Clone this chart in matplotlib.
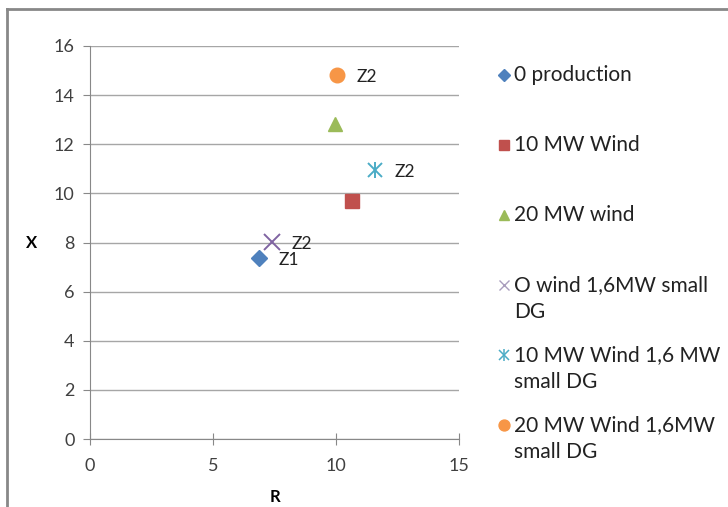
import matplotlib.pyplot as plt
from matplotlib.lines import Line2D

# scenario results: R and X per case
series = ["0 production", "10 MW Wind", "20 MW wind",
          "O wind 1,6MW small\nDG", "10 MW Wind 1,6 MW\nsmall DG",
          "20 MW Wind 1,6MW\nsmall DG"]
r_vals = [6.87, 10.65, 9.96, 7.4, 11.6, 10.04]
x_vals = [7.37, 9.7, 12.83, 8.02, 10.95, 14.82]
zone_labels = ["Z1", "", "", "Z2", "Z2", "Z2"]

colors = ["#4F81BD", "#C0504D", "#9BBB59", "#8064A2", "#4BACC6", "#F79646"]
markers = ["D", "s", "^", "x", "*", "o"]
sizes = [8.5, 10.5, 10.5, 11, 11, 10.5]

plt.rcParams['font.family'] = ['Lato', 'DejaVu Sans']

fig = plt.figure(figsize=(7.28, 5.07), dpi=100)
ax = fig.add_axes([90 / 728, 1 - 439 / 507, 369 / 728, 393 / 507])


def draw_star(a, x, y, ms, mew, c):
    # asterisk: vertical bar with a cross over it
    a.plot(x, y, marker="|", ms=ms, mew=mew, color=c, linestyle="none", zorder=3)
    a.plot(x, y, marker="x", ms=ms * 0.8, mew=mew, color=c, linestyle="none", zorder=3)


for i in range(len(series)):
    if markers[i] == "*":
        draw_star(ax, r_vals[i], x_vals[i], 12, 1.4, colors[i])
    elif markers[i] == "x":
        ax.plot(r_vals[i], x_vals[i], marker="x", ms=sizes[i], mew=1.4,
                color=colors[i], linestyle="none", zorder=3)
    else:
        ax.plot(r_vals[i], x_vals[i], marker=markers[i], ms=sizes[i],
                color=colors[i], mec=colors[i], linestyle="none", zorder=3)
    if zone_labels[i]:
        ax.annotate(zone_labels[i], (r_vals[i], x_vals[i]),
                    xytext=(14, -1.5), textcoords="offset points",
                    ha="left", va="center", fontsize=12.5, color="#222222")

ax.set_xlim(0, 15)
ax.set_ylim(0, 16)
ax.set_xticks(range(0, 16, 5))
ax.set_yticks(range(0, 17, 2))
ax.grid(axis="y", color="#A6A6A6", linewidth=1)
ax.set_axisbelow(True)
for side in ["top", "right"]:
    ax.spines[side].set_visible(False)
for side in ["left", "bottom"]:
    ax.spines[side].set_color("#888888")
ax.tick_params(axis="both", direction="out", length=5, color="#888888",
               labelsize=13, labelcolor="#404040", pad=6)
ax.tick_params(axis="x", direction="inout", length=9, pad=9)
ax.set_xlabel("R", fontsize=12, fontweight="bold", labelpad=11)
ax.set_ylabel("X", fontsize=12, fontweight="bold", rotation=0,
              labelpad=16, va="center")

# legend drawn in pixel coordinates on an overlay
lg = fig.add_axes([0, 0, 1, 1], zorder=5)
lg.set_xlim(0, 728)
lg.set_ylim(507, 0)
lg.axis("off")
lg.patch.set_alpha(0)
for i, name in enumerate(series):
    y = 75 + 70 * i
    if markers[i] == "*":
        draw_star(lg, 504, y, 9, 1.1, colors[i])
    elif markers[i] == "x":
        lg.plot(504, y, marker="x", ms=7, mew=1, color="#A99DBD")
    else:
        lg.plot(504, y, marker=markers[i], ms=sizes[i] * 0.75,
                color=colors[i], mec=colors[i])
    lines = name.split("\n")
    for j, line in enumerate(lines):
        lg.text(514, y + 27 * j, line, ha="left", va="center",
                fontsize=15, color="#222222")

# outer chart frame (top and left edges)
fig.add_artist(Line2D([7 / 728, 7 / 728], [0, 1 - 9 / 507],
                      transform=fig.transFigure, color="#888888", lw=2))
fig.add_artist(Line2D([7 / 728, 1], [1 - 9 / 507, 1 - 9 / 507],
                      transform=fig.transFigure, color="#888888", lw=2))

fig.savefig("out.png", dpi=100)
